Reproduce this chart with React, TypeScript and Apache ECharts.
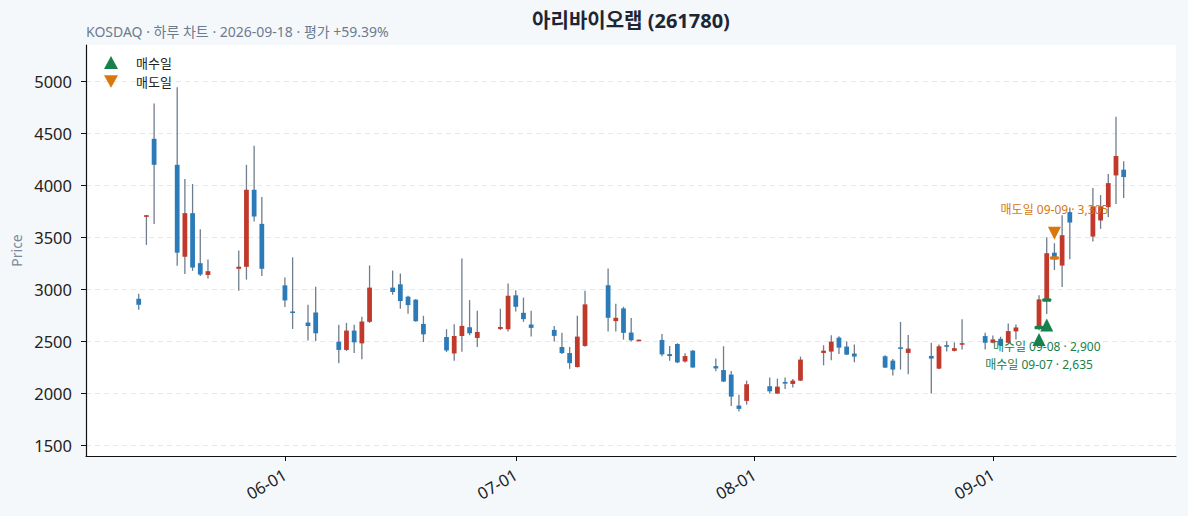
import React, { useEffect, useRef } from 'react';
import * as echarts from 'echarts';

const FONT = "'Noto Sans', 'Noto Sans CJK KR', sans-serif";
const RED = '#c0392b';
const BLUE = '#2b7bb9';
const WICK = '#6f7d8c';
const GREEN = '#17804d';
const ORANGE = '#d9770b';

const dates = [
  '2026-05-13', '2026-05-14', '2026-05-15', '2026-05-18', '2026-05-19', '2026-05-20', '2026-05-21', '2026-05-22',
  '2026-05-26', '2026-05-27', '2026-05-28', '2026-05-29',
  '2026-06-01', '2026-06-02', '2026-06-04', '2026-06-05', '2026-06-08', '2026-06-09', '2026-06-10', '2026-06-11',
  '2026-06-12', '2026-06-15', '2026-06-16', '2026-06-17', '2026-06-18', '2026-06-19', '2026-06-22', '2026-06-23',
  '2026-06-24', '2026-06-25', '2026-06-26', '2026-06-29', '2026-06-30',
  '2026-07-01', '2026-07-02', '2026-07-03', '2026-07-06', '2026-07-07', '2026-07-08', '2026-07-09', '2026-07-10',
  '2026-07-13', '2026-07-14', '2026-07-15', '2026-07-16', '2026-07-17', '2026-07-20', '2026-07-21', '2026-07-22',
  '2026-07-23', '2026-07-24', '2026-07-27', '2026-07-28', '2026-07-29', '2026-07-30', '2026-07-31',
  '2026-08-03', '2026-08-04', '2026-08-05', '2026-08-06', '2026-08-07', '2026-08-10', '2026-08-11', '2026-08-12',
  '2026-08-13', '2026-08-14', '2026-08-18', '2026-08-19', '2026-08-20', '2026-08-21', '2026-08-24', '2026-08-25',
  '2026-08-26', '2026-08-27', '2026-08-28', '2026-08-31',
  '2026-09-01', '2026-09-02', '2026-09-03', '2026-09-04', '2026-09-07', '2026-09-08', '2026-09-09', '2026-09-10',
  '2026-09-11', '2026-09-14', '2026-09-15', '2026-09-16', '2026-09-17', '2026-09-18',
];

const opens = [
  2912, 3705, 4450, 4200, 3316, 3735, 3254, 3141, 3200, 3219, 3960, 3632,
  3041, 2790, 2683, 2780, 2499, 2420, 2606, 2483, 2690, 3019, 3051, 2932, 2903, 2670, 2544, 2386, 2554, 2638, 2535, 2622, 2619,
  2945, 2777, 2664, 2613, 2448, 2390, 2255, 2458, 3042, 2697, 2819, 2587, 2510, 2516, 2380, 2477, 2309, 2413, 2264, 2226, 2183, 1885, 1930,
  2071, 2000, 2112, 2093, 2125, 2391, 2404, 2538, 2452, 2385, 2359, 2317, 2445, 2391, 2362, 2240, 2466, 2411, 2480, 2553,
  2489, 2527, 2489, 2598, 2635, 2900, 3355, 3231, 3745, 3510, 3665, 3793, 4098, 4153,
];

const highs = [
  2961, 3718, 4790, 4945, 4064, 4016, 3580, 3290, 3377, 4200, 4384, 3890,
  3116, 3310, 2854, 3028, 2661, 2680, 2661, 2738, 3232, 3183, 3154, 2940, 2910, 2748, 2619, 2667, 3300, 2899, 2796, 2816, 3058,
  2994, 2923, 2797, 2651, 2584, 2448, 2748, 2990, 3203, 2865, 2835, 2726, 2520, 2574, 2458, 2484, 2387, 2419, 2338, 2455, 2218, 1990, 2125,
  2154, 2144, 2154, 2141, 2356, 2465, 2561, 2551, 2500, 2471, 2369, 2333, 2689, 2564, 2490, 2471, 2505, 2492, 2714, 2585,
  2559, 2547, 2675, 2665, 2945, 3504, 3446, 3716, 3790, 3976, 3909, 4111, 4661, 4233,
];

const lows = [
  2806, 3430, 3630, 3230, 3150, 3180, 3132, 3106, 2990, 3096, 3655, 3132,
  2832, 2622, 2510, 2506, 2293, 2410, 2390, 2331, 2680, 2951, 2815, 2767, 2690, 2496, 2399, 2315, 2402, 2561, 2448, 2612, 2596,
  2790, 2690, 2548, 2500, 2380, 2238, 2250, 2450, 2597, 2597, 2519, 2500, 2508, 2358, 2316, 2293, 2300, 2248, 2216, 2110, 1881, 1827, 1894,
  2000, 1995, 2045, 2058, 2120, 2272, 2321, 2381, 2370, 2301, 2245, 2173, 2231, 2186, 2000, 2235, 2405, 2405, 2424, 2424,
  2485, 2458, 2485, 2521, 2610, 2765, 3189, 3025, 3292, 3462, 3584, 3697, 3822, 3880,
];

const closes = [
  2854, 3715, 4200, 3355, 3735, 3212, 3145, 3177, 3220, 3960, 3703, 3200,
  2896, 2776, 2650, 2580, 2420, 2606, 2493, 2693, 3019, 2977, 2890, 2851, 2696, 2570, 2415, 2554, 2651, 2580, 2593, 2641, 2941,
  2835, 2716, 2632, 2555, 2390, 2293, 2548, 2858, 2729, 2729, 2584, 2513, 2518, 2377, 2361, 2300, 2361, 2251, 2242, 2116, 1971, 1853, 2090,
  2022, 2067, 2096, 2125, 2327, 2413, 2500, 2442, 2375, 2356, 2250, 2231, 2440, 2433, 2337, 2455, 2450, 2437, 2485, 2489,
  2521, 2463, 2601, 2636, 2906, 3350, 3305, 3523, 3645, 3800, 3800, 4024, 4285, 4082,
];

// trades
const buyDates = ['2026-09-07', '2026-09-08'];
const buyPrices = [2635, 2900];
const buyMarks = [2521, 2659];
const sellDates = ['2026-09-09'];
const sellPrices = [3305];
const sellMarks = [3543];

const yTicks = [1500, 2000, 2500, 3000, 3500, 4000, 4500, 5000];
const xTicks = ['2026-06-01', '2026-07-01', '2026-08-01', '2026-09-01'];

const DAY = 24 * 3600 * 1000;
const toTime = (s: string) => {
  const [y, m, d] = s.split('-').map(Number);
  return new Date(y, m - 1, d).getTime();
};
const fmtNum = (n: number) => n.toLocaleString('en-US');

export default function App() {
  const chartRef = useRef<HTMLDivElement>(null);

  useEffect(() => {
    if (!chartRef.current) return;
    const chart = echarts.init(chartRef.current, null, { renderer: 'svg' });

    const candleData = dates.map((d, i) => [toTime(d), opens[i], closes[i], lows[i], highs[i]]);
    // nudge the two stacked buy labels apart a little
    const buyOffsets = [[0, 2], [0, -2]];

    const option = {
      animation: false,
      backgroundColor: '#f5f8fb',
      textStyle: { fontFamily: FONT },
      title: [
        {
          text: '아리바이오랩 (261780)',
          left: 631,
          top: 10,
          padding: 0,
          textAlign: 'center',
          textStyle: { fontSize: 20, fontWeight: 'bold', color: '#1e2533', fontFamily: FONT },
        },
        {
          text: 'KOSDAQ · 하루 차트 · 2026-09-18 · 평가 +59.39%',
          left: 86,
          top: 24,
          padding: 0,
          textStyle: { fontSize: 14, fontWeight: 'normal', color: '#6b7b90', fontFamily: FONT },
        },
      ],
      legend: {
        data: [
          { name: '매수일', icon: 'triangle', itemStyle: { color: GREEN, opacity: 1 } },
          { name: '매도일', icon: 'path://M0,0 L10,0 L5,9 Z', itemStyle: { color: ORANGE, opacity: 1 } },
        ],
        orient: 'vertical',
        left: 104,
        top: 56,
        padding: 0,
        itemWidth: 14,
        itemHeight: 13,
        itemGap: 6,
        textStyle: { fontSize: 13, color: '#222', fontFamily: FONT, padding: [0, 0, 0, 13] },
      },
      grid: { left: 86, right: 12, top: 45, bottom: 60, show: true, backgroundColor: '#ffffff', borderWidth: 0 },
      xAxis: {
        type: 'value',
        min: toTime('2026-05-06') + 0.15 * DAY,
        max: toTime('2026-09-24') + 0.8 * DAY,
        axisLine: { show: true, onZero: false, lineStyle: { color: '#111', width: 1.2 } },
        axisTick: { show: true, length: 5, lineStyle: { color: '#111' }, customValues: xTicks.map(toTime) },
        axisLabel: {
          customValues: xTicks.map(toTime),
          rotate: 30,
          fontSize: 16.5,
          color: '#222',
          margin: 17,
          fontFamily: FONT,
          formatter: (v: number) => {
            const d = new Date(v);
            return String(d.getMonth() + 1).padStart(2, '0') + '-' + String(d.getDate()).padStart(2, '0');
          },
        },
        splitLine: { show: false },
      },
      yAxis: {
        type: 'value',
        min: 1400,
        max: 5352,
        name: 'Price',
        nameLocation: 'middle',
        nameGap: 60,
        nameTextStyle: { fontSize: 14, color: '#7a889a', fontFamily: FONT },
        axisLine: { show: true, lineStyle: { color: '#111', width: 1.2 } },
        axisTick: { show: true, length: 5, lineStyle: { color: '#111' }, customValues: yTicks },
        axisLabel: {
          customValues: yTicks,
          fontSize: 16.5,
          color: '#222',
          margin: 14,
          fontFamily: FONT,
          formatter: (v: number) => String(v),
        },
        splitLine: { show: true, lineStyle: { color: '#e6e8eb', type: [5, 4], width: 1 } },
      },
      series: [
        {
          name: 'OHLC',
          type: 'custom',
          data: candleData,
          encode: { x: 0, y: [1, 2, 3, 4] },
          renderItem: (params: any, api: any) => {
            const t = api.value(0);
            const o = api.value(1);
            const c = api.value(2);
            const l = api.value(3);
            const h = api.value(4);
            const pO = api.coord([t, o]);
            const pC = api.coord([t, c]);
            const pL = api.coord([t, l]);
            const pH = api.coord([t, h]);
            const xL = api.coord([t - 0.31 * DAY, o])[0];
            const xR = api.coord([t + 0.31 * DAY, o])[0];
            const w = xR - xL;
            const top = Math.min(pO[1], pC[1]);
            const hh = Math.max(Math.abs(pO[1] - pC[1]), 1.6);
            return {
              type: 'group',
              children: [
                {
                  type: 'line',
                  shape: { x1: pH[0], y1: pH[1], x2: pL[0], y2: pL[1] },
                  style: { stroke: WICK, lineWidth: 1.3 },
                },
                {
                  type: 'rect',
                  shape: { x: xL, y: top, width: w, height: hh },
                  style: { fill: c >= o ? RED : BLUE },
                },
              ],
            };
          },
          z: 2,
        },
        {
          name: '매수가',
          type: 'scatter',
          symbol: 'roundRect',
          symbolSize: [9, 3.5],
          itemStyle: { color: GREEN, opacity: 1 },
          data: buyDates.map((d, i) => [toTime(d), buyPrices[i]]),
          z: 3,
        },
        {
          name: '매도가',
          type: 'scatter',
          symbol: 'roundRect',
          symbolSize: [9, 3.5],
          itemStyle: { color: ORANGE, opacity: 1 },
          data: sellDates.map((d, i) => [toTime(d), sellPrices[i]]),
          z: 3,
        },
        {
          name: '매수일',
          type: 'scatter',
          symbol: 'triangle',
          symbolSize: 13,
          itemStyle: { color: GREEN, opacity: 1 },
          data: buyDates.map((d, i) => ({
            value: [toTime(d), buyMarks[i]],
            label: { offset: buyOffsets[i] },
          })),
          label: {
            show: true,
            position: 'bottom',
            distance: 11,
            fontSize: 12,
            lineHeight: 12,
            color: GREEN,
            fontFamily: FONT,
            formatter: (p: any) => '매수일 ' + buyDates[p.dataIndex].slice(5) + ' · ' + fmtNum(buyPrices[p.dataIndex]),
          },
          z: 4,
        },
        {
          name: '매도일',
          type: 'scatter',
          symbol: 'path://M0,0 L10,0 L5,9 Z',
          symbolSize: 13,
          itemStyle: { color: ORANGE, opacity: 1 },
          data: sellDates.map((d, i) => [toTime(d), sellMarks[i]]),
          label: {
            show: true,
            position: 'top',
            distance: 11,
            fontSize: 12,
            lineHeight: 12,
            color: ORANGE,
            fontFamily: FONT,
            formatter: (p: any) => '매도일 ' + sellDates[p.dataIndex].slice(5) + ' · ' + fmtNum(sellPrices[p.dataIndex]),
          },
          z: 4,
        },
      ],
    };

    chart.setOption(option as any);
    return () => {
      chart.dispose();
    };
  }, []);

  return (
    <div
      ref={chartRef}
      style={{ position: 'absolute', left: 0, top: 0, width: '1188px', height: '516px' }}
    />
  );
}
